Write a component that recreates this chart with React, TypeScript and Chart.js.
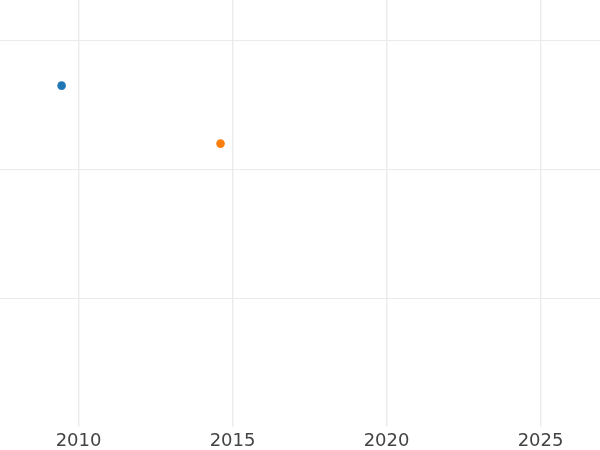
import React, { useEffect, useRef } from "react";
import { Chart, registerables } from "chart.js";

Chart.register(...registerables);

const seriesNames = ["A", "B"];
const xValues = [2009.45, 2014.61];
const yValues = [2.65, 2.2];
const colors = ["#1f77b4", "#ff7f0e"];
const xTicks = [2010, 2015, 2020, 2025];
const yTicks = [1, 2, 3];
const xMin = 2007.45;
const xMax = 2026.93;
const yMin = 0;
const yMax = 3.315;

export default function App() {
  const ref = useRef<HTMLCanvasElement | null>(null);
  useEffect(() => {
    if (!ref.current) return;
    const chart = new Chart(ref.current, {
      type: "scatter",
      data: {
        datasets: seriesNames.map((name, i) => ({
          label: name,
          data: [{ x: xValues[i], y: yValues[i] }],
          backgroundColor: colors[i],
          borderColor: colors[i],
          pointRadius: 4.3,
          pointHoverRadius: 4.3,
          borderWidth: 0,
        })),
      },
      options: {
        animation: false,
        responsive: false,
        maintainAspectRatio: false,
        layout: { padding: 0, autoPadding: false },
        plugins: { legend: { display: false }, tooltip: { enabled: false } },
        scales: {
          x: {
            type: "linear",
            min: xMin,
            max: xMax,
            afterBuildTicks: (s: any) => {
              s.ticks = xTicks.map((v) => ({ value: v }));
            },
            afterFit: (s: any) => {
              s.height = 23;
            },
            grid: { color: "#ebebeb", lineWidth: 1.4, drawTicks: false },
            border: { display: false },
            ticks: {
              padding: 4,
              color: "#444444",
              font: { family: "DejaVu Sans", size: 18 },
              callback: (v: any) => String(v),
              maxRotation: 0,
              autoSkip: false,
            },
          },
          y: {
            type: "linear",
            min: yMin,
            max: yMax,
            afterBuildTicks: (s: any) => {
              s.ticks = yTicks.map((v) => ({ value: v }));
            },
            afterFit: (s: any) => {
              s.width = 0;
            },
            grid: { color: "#ebebeb", lineWidth: 1, drawTicks: false },
            border: { display: false },
            ticks: { display: false },
          },
        },
      },
    });
    return () => chart.destroy();
  }, []);
  return (
    <div style={{ position: "fixed", left: 0, top: 0, width: 600, height: 450, background: "#fff" }}>
      <canvas ref={ref} width={600} height={450} style={{ display: "block" }} />
    </div>
  );
}
